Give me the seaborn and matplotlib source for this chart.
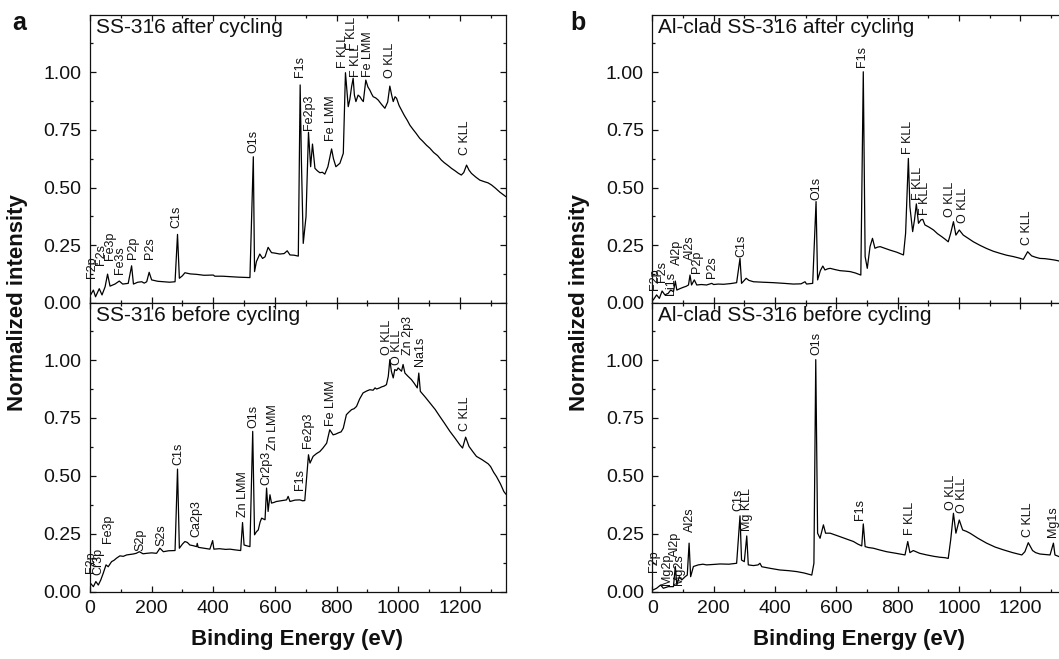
import matplotlib
matplotlib.use("Agg")
import numpy as np
import pandas as pd
import matplotlib.pyplot as plt
import seaborn as sns
from matplotlib.ticker import MultipleLocator, FormatStrFormatter

# ---- spectra: (binding energy eV, normalized intensity) ----
ss_after = [
    (2, .035), (11, .056), (18, .027), (30, .062), (39, .035), (49, .070), (57, .125), (65, .073),
    (81, .082), (95, .095), (106, .082), (124, .085), (135, .161), (141, .082), (155, .090),
    (168, .092), (176, .086), (184, .092), (192, .133), (200, .100), (220, .094), (238, .092),
    (258, .090), (276, .092), (284, .297), (290, .107), (300, .118), (308, .131), (325, .126),
    (346, .124), (370, .120), (400, .121), (405, .116), (430, .116), (454, .114), (480, .112),
    (500, .111), (519, .110), (530, .633), (534, .136), (540, .179), (551, .212), (560, .193),
    (568, .200), (578, .241), (589, .218), (600, .216), (616, .212), (630, .214), (640, .226),
    (649, .208), (662, .207), (676, .203), (682, .944), (686, .619), (692, .258), (701, .374),
    (709, .739), (716, .590), (722, .688), (730, .583), (738, .572), (746, .564), (754, .566),
    (762, .558), (772, .590), (784, .667), (790, .625), (798, .590), (811, .605), (822, .648),
    (829, .997), (838, .850), (843, .880), (849, .937), (854, .973), (858, .900), (863, .872),
    (870, .900), (876, .893), (882, .880), (887, .872), (895, .965), (902, .935), (908, .922),
    (914, .905), (919, .893), (927, .888), (935, .879), (946, .860), (957, .843), (966, .870),
    (973, .939), (979, .900), (984, .872), (990, .893), (995, .886), (1003, .855), (1011, .835),
    (1020, .812), (1030, .790), (1038, .770), (1048, .752), (1058, .735), (1070, .713),
    (1080, .700), (1092, .683), (1103, .670), (1115, .652), (1128, .638), (1140, .619),
    (1150, .607), (1162, .595), (1173, .583), (1185, .572), (1195, .562), (1205, .554),
    (1213, .565), (1222, .597), (1230, .575), (1238, .561), (1252, .545), (1265, .532),
    (1280, .525), (1292, .520), (1303, .511), (1315, .498), (1330, .480), (1343, .467),
    (1350, .460),
]

ss_before = [
    (2, .035), (11, .021), (19, .043), (27, .028), (35, .050), (43, .079), (52, .115), (59, .107),
    (70, .129), (78, .135), (86, .144), (97, .154), (108, .152), (119, .158), (130, .160),
    (140, .162), (150, .165), (160, .172), (172, .163), (184, .165), (200, .167), (216, .165),
    (227, .187), (238, .172), (255, .176), (276, .177), (284, .529), (290, .187), (300, .205),
    (308, .216), (316, .212), (324, .201), (335, .198), (346, .194), (348, .208), (351, .191),
    (370, .187), (389, .183), (398, .220), (402, .183), (420, .185), (440, .182), (454, .183),
    (470, .180), (489, .177), (495, .298), (500, .201), (510, .197), (519, .194), (528, .692),
    (534, .245), (540, .258), (546, .266), (552, .300), (557, .317), (568, .310), (573, .447),
    (578, .346), (584, .418), (589, .382), (597, .385), (605, .389), (620, .392), (638, .396),
    (643, .411), (649, .389), (665, .395), (681, .396), (690, .392), (697, .393), (703, .490),
    (709, .591), (714, .555), (724, .584), (735, .596), (746, .605), (756, .620), (768, .641),
    (778, .699), (789, .677), (797, .680), (805, .685), (815, .690), (822, .706), (832, .764),
    (840, .775), (849, .786), (857, .790), (865, .800), (875, .832), (886, .858), (897, .866),
    (908, .872), (919, .870), (925, .880), (930, .875), (940, .880), (946, .884), (955, .888),
    (962, .894), (968, .930), (973, 1.002), (978, .952), (984, .923), (989, .959), (995, .955),
    (1000, .966), (1006, .958), (1011, .952), (1016, .981), (1022, .944), (1032, .930),
    (1043, .916), (1052, .900), (1062, .880), (1067, .944), (1072, .865), (1088, .840),
    (1103, .815), (1120, .787), (1135, .757), (1150, .728), (1168, .692), (1185, .662),
    (1200, .634), (1209, .620), (1219, .667), (1230, .627), (1242, .605), (1254, .584),
    (1272, .570), (1292, .552), (1300, .540), (1310, .515), (1319, .497), (1332, .465),
    (1343, .432), (1350, .420),
]

al_after = [
    (3, .013), (14, .035), (23, .020), (32, .052), (41, .035), (52, .042), (60, .056), (69, .049),
    (75, .095), (80, .056), (90, .062), (101, .068), (110, .072), (118, .078), (123, .121),
    (128, .078), (137, .100), (145, .078), (160, .080), (177, .078), (194, .085), (200, .080),
    (215, .082), (232, .081), (255, .084), (275, .088), (286, .193), (291, .085), (298, .095),
    (306, .107), (315, .098), (330, .092), (360, .090), (395, .088), (430, .085), (460, .082),
    (485, .083), (498, .092), (503, .082), (523, .085), (534, .439), (539, .100), (548, .140),
    (556, .160), (563, .143), (572, .148), (580, .150), (595, .145), (612, .140), (630, .138),
    (645, .136), (662, .130), (680, .121), (688, 1.001), (694, .201), (701, .150), (710, .244),
    (718, .280), (726, .237), (735, .242), (743, .244), (760, .236), (775, .229), (797, .220),
    (819, .208), (826, .302), (835, .626), (840, .417), (849, .309), (855, .360), (861, .429),
    (868, .345), (876, .360), (882, .362), (889, .338), (903, .328), (917, .316), (930, .300),
    (944, .287), (955, .276), (965, .265), (973, .302), (982, .352), (990, .294), (1001, .316),
    (1014, .294), (1030, .280), (1047, .265), (1068, .250), (1090, .236), (1112, .224),
    (1134, .215), (1155, .207), (1177, .201), (1195, .195), (1210, .189), (1224, .222),
    (1237, .204), (1250, .198), (1264, .193), (1280, .192), (1297, .189), (1312, .186),
    (1326, .182), (1350, .178),
]

al_before = [
    (3, .007), (14, .014), (27, .028), (36, .014), (52, .021), (69, .021), (75, .108), (80, .028),
    (88, .064), (96, .050), (107, .064), (114, .071), (120, .209), (125, .064), (134, .108),
    (150, .115), (165, .118), (177, .115), (200, .117), (221, .119), (250, .118), (275, .122),
    (286, .327), (291, .136), (300, .129), (308, .240), (313, .115), (330, .112), (345, .115),
    (351, .122), (357, .107), (385, .100), (416, .093), (445, .090), (471, .086), (495, .080),
    (520, .071), (527, .122), (533, 1.002), (539, .252), (547, .230), (558, .288), (565, .252),
    (580, .252), (595, .245), (612, .237), (635, .226), (656, .216), (670, .205), (683, .197),
    (688, .292), (694, .194), (705, .190), (721, .187), (740, .180), (764, .172), (795, .165),
    (824, .158), (833, .216), (840, .168), (851, .177), (872, .165), (895, .158), (918, .152),
    (938, .148), (955, .146), (965, .143), (973, .223), (982, .338), (990, .252), (1001, .309),
    (1012, .266), (1024, .260), (1036, .252), (1062, .230), (1090, .209), (1118, .192),
    (1145, .180), (1175, .168), (1205, .158), (1215, .172), (1226, .211), (1240, .177),
    (1250, .168), (1264, .162), (1280, .160), (1297, .158), (1308, .209), (1313, .158),
    (1326, .151), (1350, .148),
]

# ---- peak assignments: label, energy, label base height ----
ss_after_names = ["F2p", "F2s", "Fe3p", "Fe3s", "P2p", "P2s", "C1s", "O1s", "F1s", "Fe2p3",
                  "Fe LMM", "F KLL", "F KLL", "F KLL", "Fe LMM", "O KLL", "C KLL"]
ss_after_pev = [5, 36, 65, 97, 141, 195, 281, 530, 681, 711, 781, 821, 849, 862, 903, 973, 1216]
ss_after_py = [0.109, 0.164, 0.186, 0.125, 0.189, 0.189, 0.326, 0.651, 0.977, 0.749, 0.703,
               1.016, 1.095, 0.977, 0.977, 0.972, 0.641]

ss_before_names = ["F2p", "Cr3p", "Fe3p", "S2p", "S2s", "C1s", "Ca2p3", "Zn LMM", "O1s",
                   "Cr2p3", "Zn LMM", "F1s", "Fe2p3", "Fe LMM", "O KLL", "O KLL", "Zn 2p3",
                   "Na1s", "C KLL"]
ss_before_pev = [2, 27, 60, 162, 232, 287, 344, 495, 530, 573, 595, 681, 708, 781, 964, 995,
                 1032, 1070, 1216]
ss_before_py = [0.079, 0.071, 0.209, 0.177, 0.197, 0.548, 0.234, 0.324, 0.706, 0.461, 0.613,
                0.439, 0.620, 0.714, 1.024, 0.980, 1.024, 0.973, 0.692]

al_after_names = ["F2p", "F2s", "Li1s", "Al2p", "Al2s", "P2p", "P2s", "C1s", "O1s", "F1s",
                  "F KLL", "F KLL", "F KLL", "O KLL", "O KLL", "C KLL"]
al_after_pev = [9, 31, 60, 80, 123, 145, 194, 291, 534, 683, 835, 868, 889, 971, 1012, 1223]
al_after_py = [0.056, 0.092, 0.035, 0.164, 0.186, 0.128, 0.107, 0.200, 0.446, 1.023, 0.645,
               0.446, 0.381, 0.374, 0.345, 0.251]

al_before_names = ["F2p", "Mg2p", "Al2p", "Mg2s", "Al2s", "C1s", "Mg KLL", "O1s", "F1s",
                   "F KLL", "O KLL", "O KLL", "C KLL", "Mg1s"]
al_before_pev = [5, 47, 74, 88, 123, 281, 308, 534, 677, 840, 973, 1009, 1226, 1308]
al_before_py = [0.086, 0.028, 0.151, 0.028, 0.259, 0.350, 0.263, 1.024, 0.307, 0.245, 0.353,
                0.338, 0.234, 0.237]

W, H = 1059, 659
sns.set_theme(style="ticks")
plt.rcParams["font.family"] = ["Liberation Sans", "DejaVu Sans"]
plt.rcParams["axes.linewidth"] = 0.9
plt.rcParams["axes.edgecolor"] = "#111111"
plt.rcParams["text.color"] = "#111111"
plt.rcParams["xtick.color"] = "#111111"
plt.rcParams["ytick.color"] = "#111111"

fig = plt.figure(figsize=(W / 100, H / 100), dpi=100)


def px_axes(left, top, right, bottom):
    return fig.add_axes([left / W, 1 - bottom / H, (right - left) / W, (bottom - top) / H])


def draw_panel(ax, spectrum, names, pev, py, title, show_x):
    df = pd.DataFrame(spectrum, columns=["ev", "intensity"])
    sns.lineplot(data=df, x="ev", y="intensity", ax=ax, color="black", lw=0.9,
                 sort=False, estimator=None)
    for name, x, y in zip(names, pev, py):
        ax.text(x, y, name, rotation=90, ha="center", va="bottom", fontsize=9)
    ax.set_xlim(0, 1350)
    ax.set_ylim(0, 1.2468)
    ax.xaxis.set_major_locator(MultipleLocator(200))
    ax.xaxis.set_minor_locator(MultipleLocator(100))
    ax.yaxis.set_major_locator(MultipleLocator(0.25))
    ax.yaxis.set_minor_locator(MultipleLocator(0.125))
    ax.yaxis.set_major_formatter(FormatStrFormatter("%.2f"))
    ax.tick_params(which="both", direction="in", top=True, right=True, width=0.9,
                   labelsize=14)
    ax.tick_params(which="major", length=4.5, pad=6)
    ax.tick_params(which="minor", length=2.5)
    ax.tick_params(labelbottom=show_x)
    ax.set_xlabel("")
    ax.set_ylabel("")
    ax.text(0.014, 0.99, title, transform=ax.transAxes, fontsize=15, va="top", ha="left")


ax_a1 = px_axes(90, 15, 506, 303)
ax_a2 = px_axes(90, 303, 506, 591.5)
ax_b1 = px_axes(652.3, 15, 1066.3, 303)
ax_b2 = px_axes(652.3, 303, 1066.3, 591.5)

draw_panel(ax_a1, ss_after, ss_after_names, ss_after_pev, ss_after_py,
           "SS-316 after cycling", False)
draw_panel(ax_a2, ss_before, ss_before_names, ss_before_pev, ss_before_py,
           "SS-316 before cycling", True)
draw_panel(ax_b1, al_after, al_after_names, al_after_pev, al_after_py,
           "Al-clad SS-316 after cycling", False)
draw_panel(ax_b2, al_before, al_before_names, al_before_pev, al_before_py,
           "Al-clad SS-316 before cycling", True)

for x, letter in [(12, "a"), (570, "b")]:
    fig.text(x / W, 1 - 30 / H, letter, fontsize=18, fontweight="bold", ha="left", va="baseline")

for x in [18, 580]:
    fig.text(x / W, 1 - 303 / H, "Normalized intensity", rotation=90, fontsize=16,
             fontweight="bold", ha="center", va="center")
for x in [297, 859]:
    fig.text(x / W, 1 - 640 / H, "Binding Energy (eV)", fontsize=16, fontweight="bold",
             ha="center", va="center")

fig.savefig("out.png", dpi=100)
